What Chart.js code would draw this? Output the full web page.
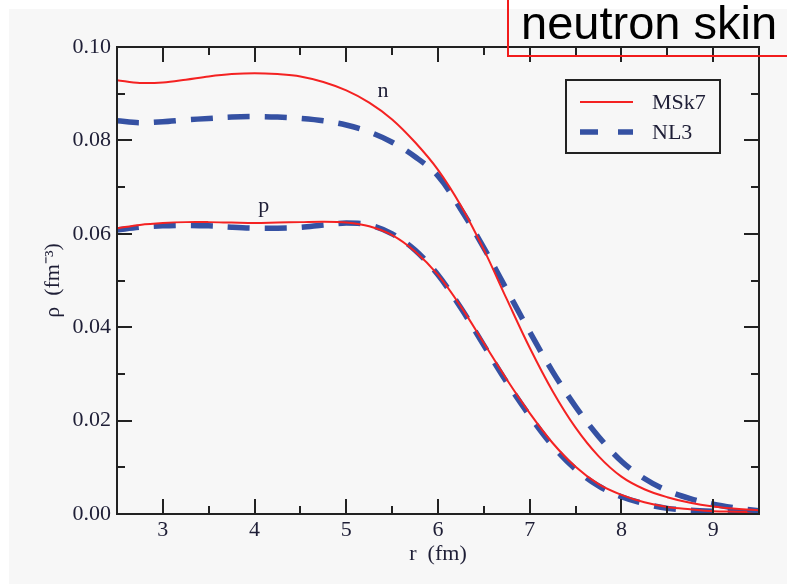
<!DOCTYPE html>
<html lang="en">
  <head>
    <meta charset="UTF-8" />
    <title>neutron skin</title>
    <style>
      html, body { margin: 0; padding: 0; background: #fff; }
      .stage { position: relative; width: 787px; height: 584px; overflow: hidden; }
      .paper { position: absolute; left: 9px; top: 9px; right: 0; bottom: 0; background: #f7f7f7; }
      #chart { position: absolute; left: 0; top: 0; }
      .skin-box {
        position: absolute; left: 507px; top: -4px; width: 320px; height: 61px;
        border: 2px solid #f21c1c; box-sizing: border-box;
      }
      .skin-text {
        position: absolute; left: 521px; top: -1px; line-height: 47px;
        font-family: 'Liberation Sans', Arial, sans-serif; font-size: 47px; color: #000;
        white-space: nowrap;
      }
    </style>
  </head>
  <body>
    <div class="stage">
      <div class="paper"></div>
      <canvas id="chart" width="787" height="584"></canvas>
      <div class="skin-box"></div>
      <div class="skin-text">neutron skin</div>
    </div>

    <script src="https://cdn.jsdelivr.net/npm/chart.js@4.4.1/dist/chart.umd.min.js"></script>
    <script>
      // r (fm)
      var radius = [2.5, 2.75, 3.0, 3.25, 3.5, 3.75, 4.0, 4.25, 4.5, 4.75, 5.0, 5.25, 5.5, 5.75,
        6.0, 6.25, 6.5, 6.75, 7.0, 7.25, 7.5, 7.75, 8.0, 8.25, 8.5, 8.75, 9.0, 9.25, 9.5];

      // neutron densities
      var nMSk7 = [0.0929, 0.0923, 0.0924, 0.0930, 0.0937, 0.0942, 0.0944, 0.0942, 0.0937, 0.0925,
        0.0907, 0.0881, 0.0845, 0.0796, 0.0737, 0.0660, 0.0566, 0.0460, 0.0356, 0.0263, 0.0185,
        0.0124, 0.0080, 0.0053, 0.0036, 0.0024, 0.0016, 0.0011, 0.0008];
      var nNL3 = [0.0842, 0.0838, 0.0840, 0.0844, 0.0847, 0.0850, 0.0851, 0.0850, 0.0847, 0.0842,
        0.0833, 0.0818, 0.0796, 0.0765, 0.0724, 0.0652, 0.0570, 0.0480, 0.0390, 0.0305, 0.0230,
        0.0166, 0.0113, 0.0076, 0.0050, 0.0033, 0.0021, 0.0013, 0.0007];

      // proton densities
      var pMSk7 = [0.0612, 0.0619, 0.0623, 0.0625, 0.0625, 0.0624, 0.0623, 0.0624, 0.0625, 0.0626,
        0.0624, 0.0616, 0.0597, 0.0562, 0.0512, 0.0444, 0.0366, 0.0288, 0.0216, 0.0152, 0.0101,
        0.0064, 0.0041, 0.0025, 0.0015, 0.0010, 0.0006, 0.0005, 0.0004];
      var pNL3 = [0.0608, 0.0614, 0.0617, 0.0618, 0.0617, 0.0614, 0.0612, 0.0612, 0.0614, 0.0619,
        0.0623, 0.0619, 0.0600, 0.0565, 0.0512, 0.0441, 0.0361, 0.0282, 0.0210, 0.0146, 0.0096,
        0.0060, 0.0037, 0.0022, 0.0012, 0.0008, 0.0006, 0.0005, 0.0005];

      var xTicks = [3, 4, 5, 6, 7, 8, 9];
      var xMinor = [3.5, 4.5, 5.5, 6.5, 7.5, 8.5];
      var yTicks = [0, 0.02, 0.04, 0.06, 0.08, 0.1];
      var yMinor = [0.01, 0.03, 0.05, 0.07, 0.09];

      var legendNames = ['MSk7', 'NL3'];
      var curveLabels = [
        { text: 'n', x: 5.4, y: 0.0905 },
        { text: 'p', x: 4.1, y: 0.0660 },
      ];

      var red = '#f42222';
      var blue = '#3551a3';
      var ink = '#222';
      var labelInk = '#1e1e36';
      var serif = "'Liberation Serif', 'Times New Roman', serif";

      function pts(ys) {
        return radius.map(function (r, i) { return { x: r, y: ys[i] }; });
      }

      function solid(label, ys) {
        return { label: label, data: pts(ys), borderColor: red, borderWidth: 2,
          pointRadius: 0, tension: 0.35, fill: false };
      }
      function dashed(label, ys) {
        return { label: label, data: pts(ys), borderColor: blue, borderWidth: 5.5,
          borderDash: [22, 15], pointRadius: 0, tension: 0.35, fill: false };
      }

      // frame, inward ticks, legend box and n / p labels
      var decor = {
        id: 'decor',
        afterDatasetsDraw: function (chart) {
          var ctx = chart.ctx;
          var a = chart.chartArea;
          var sx = chart.scales.x, sy = chart.scales.y;
          ctx.save();
          ctx.strokeStyle = ink;
          ctx.lineWidth = 2;
          ctx.strokeRect(a.left, a.top, a.right - a.left, a.bottom - a.top);

          function xt(vals, len) {
            vals.forEach(function (v) {
              var p = Math.round(sx.getPixelForValue(v));
              ctx.beginPath();
              ctx.moveTo(p, a.bottom); ctx.lineTo(p, a.bottom - len);
              ctx.moveTo(p, a.top); ctx.lineTo(p, a.top + len);
              ctx.stroke();
            });
          }
          function yt(vals, len) {
            vals.forEach(function (v) {
              var p = Math.round(sy.getPixelForValue(v));
              ctx.beginPath();
              ctx.moveTo(a.left, p); ctx.lineTo(a.left + len, p);
              ctx.moveTo(a.right, p); ctx.lineTo(a.right - len, p);
              ctx.stroke();
            });
          }
          xt(xTicks, 15); xt(xMinor, 8);
          yt(yTicks, 15); yt(yMinor, 8);

          // curve labels
          ctx.fillStyle = labelInk;
          ctx.font = '22px ' + serif;
          ctx.textAlign = 'center';
          ctx.textBaseline = 'middle';
          curveLabels.forEach(function (c) {
            ctx.fillText(c.text, sx.getPixelForValue(c.x), sy.getPixelForValue(c.y));
          });

          // legend
          var bx = 566, by = 80, bw = 154, bh = 73;
          ctx.fillStyle = '#f7f7f7';
          ctx.fillRect(bx, by, bw, bh);
          ctx.strokeStyle = ink;
          ctx.lineWidth = 2;
          ctx.strokeRect(bx, by, bw, bh);
          var ds = chart.data.datasets;
          legendNames.forEach(function (name, i) {
            var d = ds[i];
            var y = by + 22 + i * 30;
            ctx.beginPath();
            ctx.strokeStyle = d.borderColor;
            ctx.lineWidth = d.borderWidth;
            ctx.setLineDash(d.borderDash ? [18, 20] : []);
            ctx.moveTo(bx + 14, y); ctx.lineTo(bx + 67, y);
            ctx.stroke();
            ctx.setLineDash([]);
            ctx.fillStyle = labelInk;
            ctx.font = '22px ' + serif;
            ctx.textAlign = 'left';
            ctx.fillText(name, bx + 86, y + 1);
          });
          ctx.restore();
        },
      };

      new Chart(document.getElementById('chart'), {
        type: 'line',
        data: {
          datasets: [
            solid(legendNames[0], nMSk7),
            dashed(legendNames[1], nNL3),
            solid('', pMSk7),
            dashed('', pNL3),
          ],
        },
        options: {
          responsive: false,
          animation: false,
          layout: { padding: { left: 0, right: 28, top: 47, bottom: 0 } },
          plugins: { legend: { display: false }, tooltip: { enabled: false } },
          scales: {
            x: {
              type: 'linear',
              min: 2.5,
              max: 9.5,
              afterBuildTicks: function (s) { s.ticks = xTicks.map(function (v) { return { value: v }; }); },
              afterFit: function (s) { s.height = 70; },
              grid: { display: false, drawTicks: false },
              border: { display: false },
              ticks: { padding: 3, color: labelInk, font: { family: serif, size: 22 },
                callback: function (v) { return String(v); } },
              title: { display: true, text: 'r  (fm)', color: labelInk,
                font: { family: serif, size: 22 }, padding: { top: 0, bottom: 17 } },
            },
            y: {
              min: 0,
              max: 0.1,
              afterBuildTicks: function (s) { s.ticks = yTicks.map(function (v) { return { value: v }; }); },
              afterFit: function (s) { s.width = 117; },
              grid: { display: false, drawTicks: false },
              border: { display: false },
              ticks: { padding: 6, color: labelInk, font: { family: serif, size: 22 },
                callback: function (v) { return v.toFixed(2); } },
              title: { display: true, text: 'ρ  (fm⁻³)', color: labelInk,
                font: { family: serif, size: 22 }, padding: { top: 40, bottom: 0 } },
            },
          },
        },
        plugins: [decor],
      });
    </script>
  </body>
</html>
